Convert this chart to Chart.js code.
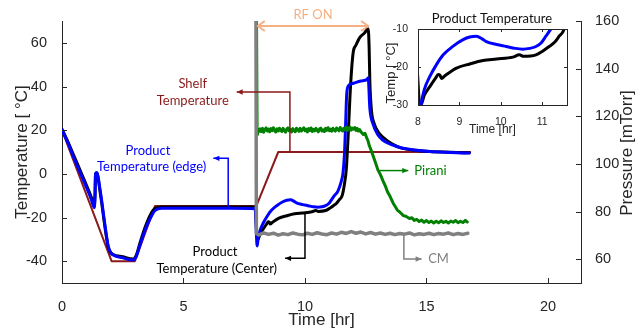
<!DOCTYPE html>
<html>
<head>
<meta charset="utf-8">
<script src="https://cdn.jsdelivr.net/npm/chart.js@4.4.1/dist/chart.umd.min.js"></script>
<style>
  body { margin: 0; background: #fff; }
  #wrap { position: relative; width: 636px; height: 331px; }
  #main { position: absolute; left: 0; top: 0; }
  #inset { position: absolute; left: 380px; top: 5px; }
</style>
</head>
<body>
<div id="wrap">
  <canvas id="main" width="636" height="331"></canvas>
  <canvas id="inset" width="195" height="135"></canvas>
</div>
<script>
// ticks
const xTicks = [0, 5, 10, 15, 20];
const tempTicks = [-40, -20, 0, 20, 40, 60];
const pressTicks = [60, 80, 100, 120, 140, 160];
const insetXTicks = [8, 9, 10, 11];
const insetYTicks = [-30, -20, -10];

// shelf temperature [C]
const shelfTime = [0, 2.04, 3.0, 3.83, 8.0, 8.9, 16.8];
const shelfTemp = [20, -40, -40, -14.7, -14.7, 10, 10];

// product temperature, edge (blue) [C]
const edgeTime = [0, 0.25, 0.5, 0.75, 1.0, 1.2, 1.33, 1.36, 1.38, 1.43, 1.48, 1.55, 1.63, 1.75, 1.9, 2.0, 2.11, 2.5, 2.93, 3.05, 3.2, 3.42, 3.65, 3.83, 4.1, 5.0, 7.0, 7.95,
  7.99, 8.03, 8.07, 8.15, 8.29, 8.45, 8.61, 8.85, 9.09, 9.25, 9.41, 9.55, 9.65, 9.9, 10.13, 10.35, 10.53, 10.7, 10.85, 10.98, 11.09, 11.21, 11.35, 11.48, 11.56, 11.62, 11.67, 11.72, 11.8,
  12.0, 12.3, 12.55, 12.6, 12.67, 12.81, 13.0, 13.2, 13.43, 13.7, 13.98, 14.5, 15.14, 16.0, 16.76];
const edgeTemp = [20, 14, 7, 0.5, -6, -11.5, -15.5, -10, 0, 0.5, -1, -6, -12, -22, -33, -36, -37.2, -38.5, -39.5, -38, -33, -25.7, -20, -16.8, -15.8, -15.8, -15.8, -16,
  -25, -33, -30, -26, -22.4, -19.3, -16.8, -14.5, -12.8, -12.1, -11.9, -12.6, -13.3, -14.1, -14.6, -15.1, -15.3, -15.1, -14.6, -13.6, -11.9, -10, -8, -4, 0, 8, 22, 37, 40.5,
  41.5, 42.5, 43.2, 44, 30, 22.5, 17.9, 15.5, 14, 12.8, 11.8, 10.9, 10.2, 9.8, 9.5];

// product temperature, center (black) [C]
const centerTime = [0, 0.25, 0.5, 0.75, 1.0, 1.2, 1.33, 1.36, 1.38, 1.43, 1.48, 1.55, 1.63, 1.75, 1.9, 2.0, 2.11, 2.5, 2.93, 3.05, 3.2, 3.42, 3.65, 3.83, 4.1, 7.95,
  7.99, 8.03, 8.07, 8.15, 8.29, 8.42, 8.49, 8.53, 8.57, 8.65, 8.93, 9.25, 9.57, 9.9, 10.29, 10.45, 10.55, 10.85, 11.0, 11.17, 11.3, 11.41, 11.53, 11.62, 11.7, 11.78, 11.85, 11.92, 11.99,
  12.1, 12.26, 12.45, 12.6, 12.64, 12.67, 12.74, 12.85, 13.0, 13.2, 13.43, 13.7, 13.98, 14.5, 15.14, 16.0, 16.76];
const centerTemp = [20.5, 14.5, 8, 1.5, -5, -10.5, -14, -9, 0, 0.5, -1.5, -7, -13, -23, -33.5, -36, -37, -38, -39, -37.5, -32, -24.5, -18.5, -15.8, -15.2, -15.2,
  -22, -29, -30, -27.5, -25.1, -23, -22, -22.2, -23, -22.3, -20.3, -19.2, -18.3, -17.9, -17.4, -16.8, -17.2, -16.8, -15.9, -14.6, -13.5, -11.9, -10, -5, 2, 18, 35, 48, 56,
  59, 62.5, 64.5, 66.5, 58, 42, 28.6, 23, 19.4, 16.8, 14.8, 13, 11.8, 10.8, 10.2, 9.9, 9.6];

// Pirani gauge [mTorr]
const piraniTime = [8.0, 8.03,
  8.05, 8.1, 8.15, 8.2, 8.25, 8.3, 8.35, 8.4, 8.45, 8.5,
  8.55, 8.6, 8.65, 8.7, 8.75, 8.8, 8.85, 8.9, 8.95, 9.0,
  9.05, 9.1, 9.15, 9.2, 9.25, 9.3, 9.35, 9.4, 9.45, 9.5,
  9.55, 9.6, 9.65, 9.7, 9.75, 9.8, 9.85, 9.9, 9.95, 10.0,
  10.05, 10.1, 10.15, 10.2, 10.25, 10.3, 10.35, 10.4, 10.45, 10.5,
  10.55, 10.6, 10.65, 10.7, 10.75, 10.8, 10.85, 10.9, 10.95, 11.0,
  11.05, 11.1, 11.15, 11.2, 11.25, 11.3, 11.35, 11.4, 11.45, 11.5,
  11.55, 11.6, 11.65, 11.7, 11.75, 11.8, 11.85, 11.9, 11.95, 12.0,
  12.05, 12.1, 12.15, 12.2, 12.25, 12.3,
  12.4, 12.47, 12.54, 12.6, 12.65, 12.72, 12.81, 12.9, 13.0, 13.1, 13.22, 13.3, 13.4, 13.5, 13.63, 13.72, 13.8, 13.9,
  14.05, 14.15, 14.3, 14.4, 14.5, 14.6, 14.7, 14.8, 14.9, 15.0, 15.1, 15.2, 15.3, 15.4, 15.5, 15.6, 15.7, 15.8, 15.9,
  16.0, 16.1, 16.2, 16.3, 16.4, 16.5, 16.6, 16.68];
const piraniP = [175, 112.5,
  112.8, 113.9, 114.7, 113.6, 114.9, 113.3, 114.4, 115.1, 113.8, 114.6,
  113.5, 114.8, 113.9, 115.2, 114.1, 113.4, 114.7, 113.8, 115.0, 114.2,
  113.6, 114.9, 114.0, 113.3, 114.6, 115.1, 113.9, 114.5, 113.4, 114.8,
  114.1, 113.5, 115.0, 114.3, 113.7, 114.9, 113.8, 114.4, 115.2, 113.9,
  114.6, 113.4, 114.8, 114.0, 115.1, 113.6, 114.5, 113.9, 114.9, 114.2,
  113.5, 114.7, 115.0, 113.8, 114.3, 113.6, 114.9, 114.1, 115.2, 113.9,
  114.6, 113.7, 115.0, 114.2, 113.8, 115.1, 114.4, 113.9, 115.3, 114.5,
  113.8, 115.0, 114.3, 115.4, 114.0, 114.8, 115.5, 114.2, 115.0, 114.6,
  115.3, 114.1, 114.9, 113.8, 114.4, 113.5,
  112.4, 112.8, 111.0, 109.5, 107.6, 105.8, 103.2, 100.6, 97.5, 95.6, 92.7, 90.9, 88.2, 86.4, 83.5, 82.0, 80.6, 79.8,
  78.3, 78.0, 77.1, 77.4, 76.3, 76.7, 75.8, 76.4, 75.5, 76.2, 75.4, 76.0, 75.2, 75.9, 75.3, 76.1, 75.4, 75.9, 75.2,
  76.0, 75.5, 76.2, 75.3, 75.9, 75.4, 76.3, 75.6];

// capacitance manometer [mTorr]
const cmTime = [7.98, 8.0, 8.1, 8.3, 8.5, 8.7, 8.9, 9.1, 9.3, 9.5, 9.7, 9.9, 10.1, 10.3, 10.5, 10.7, 10.9, 11.1, 11.3, 11.5, 11.7, 11.9,
  12.1, 12.3, 12.5, 12.7, 12.9, 13.1, 13.3, 13.5, 13.7, 13.9, 14.1, 14.3, 14.5, 14.7, 14.9, 15.1, 15.3, 15.5, 15.7, 15.9, 16.1, 16.3, 16.5, 16.7];
const cmP = [175, 70.8, 70.2, 71.0, 70.4, 70.9, 70.1, 70.7, 70.3, 71.0, 70.5, 70.2, 70.9, 70.4, 71.1, 70.6, 70.3, 71.0, 70.5, 71.3, 70.8, 71.6,
  70.9, 71.4, 70.6, 71.2, 70.5, 71.0, 70.4, 70.9, 70.3, 70.8, 70.5, 71.0, 70.2, 70.7, 70.4, 70.9, 70.3, 70.8, 70.5, 71.0, 70.3, 70.8, 70.4, 70.9];

const axisColor = '#262626';
const shelfColor = '#8b1a1a';
const edgeColor = '#0000ff';
const centerColor = '#000000';
const piraniColor = '#008000';
const cmColor = '#808080';
const rfColor = '#f4b183';

// leader lines [time, value] on the temperature (y) or pressure (y2) axis
const callouts = [
  { axis: 'y', color: shelfColor, path: [[9.38, 10], [9.38, 37.5], [7.19, 37.5]],
    text: [['Shelf', 5.38, 41.1, 'center'], ['Temperature', 5.38, 33.5, 'center']] },
  { axis: 'y', color: edgeColor, path: [[6.84, -15.2], [6.84, 7.1], [6.23, 7.1]],
    text: [['Product', 3.54, 10.7, 'center'], ['Temperature (edge)', 3.69, 3.1, 'center']] },
  { axis: 'y', color: centerColor, path: [[10.0, -17.4], [10.0, -38.7], [9.18, -38.7]],
    text: [['Product', 6.3, -35.7, 'center'], ['Temperature (Center)', 6.37, -43.3, 'center']] },
  { axis: 'y2', color: piraniColor, path: [[13.02, 97.2], [14.25, 97.2]],
    text: [['Pirani', 14.5, 97.2, 'left']] },
  { axis: 'y2', color: cmColor, path: [[14.07, 70.6], [14.07, 60.1], [14.8, 60.1]],
    text: [['CM', 15.07, 60.1, 'left']] }
];
const rfOn = { from: 8.06, to: 12.6, level: 67.7, label: 'RF ON', labelLevel: 72.7 };

const pts = (xs, ys) => xs.map((x, i) => ({ x: x, y: ys[i] }));

function arrowHead(ctx, x, y, dx, dy, size) {
  const a = Math.atan2(dy, dx);
  ctx.beginPath();
  ctx.moveTo(x, y);
  ctx.lineTo(x - size * Math.cos(a) + size * 0.45 * Math.sin(a), y - size * Math.sin(a) - size * 0.45 * Math.cos(a));
  ctx.lineTo(x - size * Math.cos(a) - size * 0.45 * Math.sin(a), y - size * Math.sin(a) + size * 0.45 * Math.cos(a));
  ctx.closePath();
  ctx.fill();
}

function inwardTicks(ctx, chart, len, allSides) {
  const { left, right, top, bottom } = chart.chartArea;
  ctx.save();
  ctx.strokeStyle = axisColor;
  ctx.lineWidth = 1;
  ctx.beginPath();
  const xs = chart.scales.x;
  xs.ticks.forEach(t => {
    const px = Math.round(xs.getPixelForValue(t.value)) + 0.5;
    ctx.moveTo(px, bottom); ctx.lineTo(px, bottom - len);
    if (allSides) { ctx.moveTo(px, top); ctx.lineTo(px, top + len); }
  });
  const ys = chart.scales.y;
  ys.ticks.forEach(t => {
    const py = Math.round(ys.getPixelForValue(t.value)) + 0.5;
    ctx.moveTo(left, py); ctx.lineTo(left + len, py);
    if (allSides) { ctx.moveTo(right, py); ctx.lineTo(right - len, py); }
  });
  if (chart.scales.y2) {
    const y2 = chart.scales.y2;
    y2.ticks.forEach(t => {
      const py = Math.round(y2.getPixelForValue(t.value)) + 0.5;
      ctx.moveTo(right, py); ctx.lineTo(right - len, py);
    });
  }
  ctx.stroke();
  ctx.restore();
}

function rotatedText(ctx, text, x, y) {
  ctx.save();
  ctx.translate(x, y);
  ctx.rotate(-Math.PI / 2);
  ctx.fillText(text, 0, 0);
  ctx.restore();
}

const mainDecor = {
  id: 'mainDecor',
  afterDraw(chart) {
    const ctx = chart.ctx;
    const xs = chart.scales.x;
    inwardTicks(ctx, chart, 5, false);

    ctx.save();
    ctx.fillStyle = axisColor;
    ctx.font = '17px "Liberation Sans", Arial, sans-serif';
    ctx.textAlign = 'center';
    ctx.textBaseline = 'middle';
    ctx.fillText('Time [hr]', (chart.chartArea.left + chart.chartArea.right) / 2, 320);
    const midY = (chart.chartArea.top + chart.chartArea.bottom) / 2;
    rotatedText(ctx, 'Temperature [ °C]', 22, midY);
    rotatedText(ctx, 'Pressure [mTorr]', 627, midY + 1);

    // callouts
    ctx.font = '13px Lato, "Open Sans", sans-serif';
    callouts.forEach(c => {
      const ys = chart.scales[c.axis];
      const p = c.path.map(q => [xs.getPixelForValue(q[0]), ys.getPixelForValue(q[1])]);
      ctx.strokeStyle = c.color;
      ctx.fillStyle = c.color;
      ctx.lineWidth = 1.5;
      ctx.beginPath();
      p.forEach((q, i) => i ? ctx.lineTo(q[0], q[1]) : ctx.moveTo(q[0], q[1]));
      ctx.stroke();
      const n = p.length;
      arrowHead(ctx, p[n - 1][0], p[n - 1][1], p[n - 1][0] - p[n - 2][0], p[n - 1][1] - p[n - 2][1], 6);
      c.text.forEach(t => {
        ctx.textAlign = t[3];
        ctx.fillText(t[0], xs.getPixelForValue(t[1]), ys.getPixelForValue(t[2]));
      });
    });

    // RF ON double arrow
    const yT = chart.scales.y;
    const x1 = xs.getPixelForValue(rfOn.from), x2 = xs.getPixelForValue(rfOn.to);
    const yy = yT.getPixelForValue(rfOn.level);
    ctx.strokeStyle = rfColor;
    ctx.fillStyle = rfColor;
    ctx.lineWidth = 2;
    ctx.beginPath();
    ctx.moveTo(x1, yy); ctx.lineTo(x2, yy);
    ctx.moveTo(x1 + 7, yy - 5); ctx.lineTo(x1, yy); ctx.lineTo(x1 + 7, yy + 5);
    ctx.moveTo(x2 - 7, yy - 5); ctx.lineTo(x2, yy); ctx.lineTo(x2 - 7, yy + 5);
    ctx.stroke();
    ctx.textAlign = 'center';
    ctx.fillText(rfOn.label, (x1 + x2) / 2, yT.getPixelForValue(rfOn.labelLevel));
    ctx.restore();
  }
};

const tickFont = { family: '"Liberation Sans", Arial, sans-serif', size: 14.5 };

new Chart(document.getElementById('main'), {
  type: 'line',
  data: {
    datasets: [
      { label: 'CM', data: pts(cmTime, cmP), yAxisID: 'y2', borderColor: cmColor, borderWidth: 3.5 },
      { label: 'Pirani', data: pts(piraniTime, piraniP), yAxisID: 'y2', borderColor: piraniColor, borderWidth: 3 },
      { label: 'Product Temperature (edge)', data: pts(edgeTime, edgeTemp), yAxisID: 'y', borderColor: edgeColor, borderWidth: 3, cubicInterpolationMode: 'monotone' },
      { label: 'Product Temperature (Center)', data: pts(centerTime, centerTemp), yAxisID: 'y', borderColor: centerColor, borderWidth: 3, cubicInterpolationMode: 'monotone' },
      { label: 'Shelf Temperature', data: pts(shelfTime, shelfTemp), yAxisID: 'y', borderColor: shelfColor, borderWidth: 2 }
    ]
  },
  options: {
    responsive: false,
    animation: false,
    devicePixelRatio: 1,
    layout: { padding: { top: 21, left: 0, right: 0, bottom: 0 } },
    elements: { point: { radius: 0 }, line: { borderJoinStyle: 'round', borderCapStyle: 'round' } },
    plugins: { legend: { display: false }, tooltip: { enabled: false } },
    scales: {
      x: {
        type: 'linear', min: 0, max: 21.36,
        grid: { display: false },
        border: { display: true, color: axisColor, width: 1 },
        ticks: { font: tickFont, color: axisColor, padding: 7 },
        afterBuildTicks: s => { s.ticks = xTicks.map(v => ({ value: v })); },
        afterFit: s => { s.height = 48; }
      },
      y: {
        position: 'left', min: -50, max: 70,
        grid: { display: false },
        border: { display: true, color: axisColor, width: 1 },
        ticks: { font: tickFont, color: axisColor, padding: 7 },
        afterBuildTicks: s => { s.ticks = tempTicks.map(v => ({ value: v })); },
        afterFit: s => { s.width = 62; }
      },
      y2: {
        position: 'right', min: 50, max: 160,
        grid: { display: false },
        border: { display: true, color: axisColor, width: 1 },
        ticks: { font: tickFont, color: axisColor, padding: 6 },
        afterBuildTicks: s => { s.ticks = pressTicks.map(v => ({ value: v })); },
        afterFit: s => { s.width = 55; }
      }
    }
  },
  plugins: [mainDecor]
});

// inset: zoom on product temperatures after RF start
const insetDecor = {
  id: 'insetDecor',
  afterDraw(chart) {
    const ctx = chart.ctx;
    const { left, right, top, bottom } = chart.chartArea;
    ctx.save();
    ctx.strokeStyle = axisColor;
    ctx.lineWidth = 1;
    ctx.strokeRect(Math.round(left) + 0.5, Math.round(top) + 0.5, Math.round(right - left), Math.round(bottom - top));
    ctx.restore();
    inwardTicks(ctx, chart, 3, true);
    ctx.save();
    ctx.textAlign = 'center';
    ctx.textBaseline = 'middle';
    ctx.font = '13px Lato, "Open Sans", sans-serif';
    ctx.fillStyle = '#111';
    ctx.fillText('Product Temperature', 112, 14);
    ctx.fillStyle = axisColor;
    ctx.font = '12px "Liberation Sans", Arial, sans-serif';
    ctx.fillText('Time [hr]', (left + right) / 2, 125);
    ctx.font = '13px "Liberation Sans", Arial, sans-serif';
    rotatedText(ctx, 'Temp [ °C]', 11, 68);
    ctx.restore();
  }
};

const insetFont = { family: '"Liberation Sans", Arial, sans-serif', size: 10.5 };

new Chart(document.getElementById('inset'), {
  type: 'line',
  data: {
    datasets: [
      { data: pts(edgeTime, edgeTemp), borderColor: edgeColor, borderWidth: 3, cubicInterpolationMode: 'monotone' },
      { data: pts(centerTime, centerTemp), borderColor: centerColor, borderWidth: 3, cubicInterpolationMode: 'monotone' }
    ]
  },
  options: {
    responsive: false,
    animation: false,
    devicePixelRatio: 1,
    layout: { padding: { top: 24, left: 0, right: 8, bottom: 0 } },
    elements: { point: { radius: 0 }, line: { borderJoinStyle: 'round' } },
    plugins: { legend: { display: false }, tooltip: { enabled: false } },
    scales: {
      x: {
        type: 'linear', min: 8, max: 11.6,
        grid: { display: false },
        border: { display: false },
        ticks: { font: insetFont, color: axisColor, padding: 3 },
        afterBuildTicks: s => { s.ticks = insetXTicks.map(v => ({ value: v })); },
        afterFit: s => { s.height = 35; }
      },
      y: {
        min: -30, max: -10,
        grid: { display: false },
        border: { display: false },
        ticks: { font: insetFont, color: axisColor, padding: 2 },
        afterBuildTicks: s => { s.ticks = insetYTicks.map(v => ({ value: v })); },
        afterFit: s => { s.width = 38; }
      }
    }
  },
  plugins: [insetDecor]
});
</script>
</body>
</html>
